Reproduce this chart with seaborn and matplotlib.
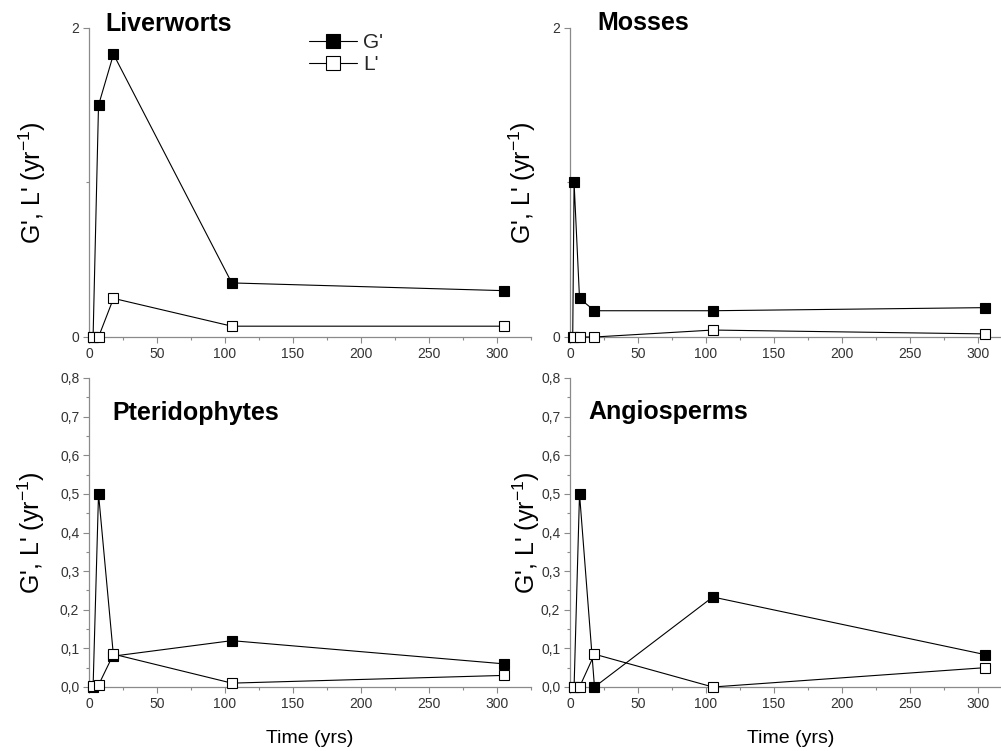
import matplotlib
matplotlib.use("Agg")
import matplotlib.pyplot as plt
import matplotlib.ticker as mticker
import pandas as pd
import seaborn as sns

# time since disturbance (yrs)
time_pts = [3, 7, 18, 105, 305]
time_mosses_g = [2, 3, 7, 18, 105, 305]

# gain (G') and loss (L') rates, yr-1
liver_g = [0.0, 1.50, 1.83, 0.35, 0.30]
liver_l = [0.0, 0.0, 0.25, 0.07, 0.07]

moss_g = [0.0, 1.00, 0.25, 0.17, 0.17, 0.19]
moss_l = [0.0, 0.0, 0.0, 0.045, 0.02]

pter_g = [0.0, 0.50, 0.08, 0.12, 0.06]
pter_l = [0.002, 0.005, 0.085, 0.01, 0.03]

angio_g = [0.0, 0.50, 0.0, 0.233, 0.084]
angio_l = [0.0, 0.0, 0.085, 0.0, 0.05]

sns.set_style("ticks")
plt.rcParams["font.family"] = ["Liberation Sans", "DejaVu Sans"]
plt.rcParams["mathtext.fontset"] = "custom"
plt.rcParams["mathtext.rm"] = "Liberation Sans"
plt.rcParams["mathtext.default"] = "regular"

W, H = 1001, 751
fig = plt.figure(figsize=(W / 100, H / 100), dpi=100)


def px_axes(left, top, right, bottom):
    return fig.add_axes([left / W, 1 - bottom / H, (right - left) / W, (bottom - top) / H])


axes = {
    "Liverworts": px_axes(89, 28, 531, 337),
    "Mosses": px_axes(570, 28, 1012, 337),
    "Pteridophytes": px_axes(89, 378, 531, 687),
    "Angiosperms": px_axes(570, 378, 1012, 687),
}

panels = [
    ("Liverworts", time_pts, liver_g, time_pts, liver_l),
    ("Mosses", time_mosses_g, moss_g, time_pts, moss_l),
    ("Pteridophytes", time_pts, pter_g, time_pts, pter_l),
    ("Angiosperms", time_pts, angio_g, time_pts, angio_l),
]

title_pos = {
    "Liverworts": (0.036, 1.013),
    "Mosses": (0.061, 1.016),
    "Pteridophytes": (0.054, 0.888),
    "Angiosperms": (0.041, 0.891),
}
ylab_x = {"Liverworts": -0.093, "Mosses": -0.072, "Pteridophytes": -0.095, "Angiosperms": -0.063}

spine_col = "#8a8a8a"
comma = mticker.FuncFormatter(lambda v, p: f"{v:.1f}".replace(".", ","))

for name, tg, g, tl, l in panels:
    ax = axes[name]
    dg = pd.DataFrame({"t": tg, "v": g})
    dl = pd.DataFrame({"t": tl, "v": l})
    sns.lineplot(data=dg, x="t", y="v", ax=ax, estimator=None, color="black",
                 lw=0.8, marker="s", markersize=7, markerfacecolor="black",
                 markeredgecolor="black", markeredgewidth=0.8, clip_on=False,
                 label="G'", legend=False, zorder=3)
    sns.lineplot(data=dl, x="t", y="v", ax=ax, estimator=None, color="black",
                 lw=0.8, marker="s", markersize=7, markerfacecolor="white",
                 markeredgecolor="black", markeredgewidth=0.8, clip_on=False,
                 label="L'", legend=False, zorder=4)

    ax.set_xlim(0, 325)
    ax.xaxis.set_major_locator(mticker.MultipleLocator(50))
    ax.xaxis.set_minor_locator(mticker.MultipleLocator(25))
    if name in ("Liverworts", "Mosses"):
        ax.set_ylim(0, 2)
        ax.set_yticks([0, 2])
        ax.yaxis.set_major_formatter(mticker.FormatStrFormatter("%d"))
        ax.yaxis.set_minor_locator(mticker.FixedLocator([1]))
        ax.set_xlabel("")
    else:
        ax.set_ylim(0, 0.8)
        ax.yaxis.set_major_locator(mticker.MultipleLocator(0.1))
        ax.yaxis.set_minor_locator(mticker.MultipleLocator(0.05))
        ax.yaxis.set_major_formatter(comma)
        ax.set_xlabel("Time (yrs)", fontsize=14, color="black")
        ax.xaxis.set_label_coords(0.5, -0.14)

    ax.set_ylabel("G', L' (yr$^{-1}$)", fontsize=18, color="black")
    ax.yaxis.set_label_coords(ylab_x[name], 0.5)

    sns.despine(ax=ax)
    for s in ("left", "bottom"):
        ax.spines[s].set_color(spine_col)
        ax.spines[s].set_linewidth(0.9)
    ax.tick_params(which="major", length=4, width=0.8, color=spine_col,
                   labelsize=10, labelcolor="#333333", pad=3)
    ax.tick_params(which="minor", length=2.5, width=0.8, color=spine_col)

    tx, ty = title_pos[name]
    ax.text(tx, ty, name, transform=ax.transAxes, fontsize=18,
            fontweight="bold", color="black", ha="left", va="center")

leg = axes["Liverworts"].legend(loc="upper left", bbox_to_anchor=(0.455, 1.045),
                                frameon=False, fontsize=15, handlelength=2.3,
                                markerscale=1.5, labelspacing=0.15,
                                handletextpad=0.3)

fig.savefig("out.png", dpi=100)
